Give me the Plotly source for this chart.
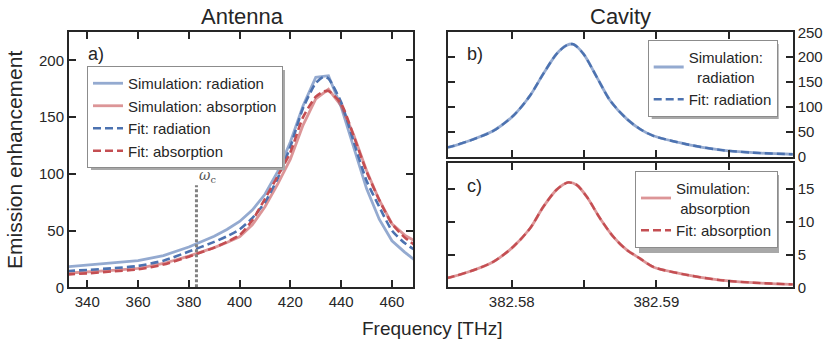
import plotly.graph_objects as go

# ---------------- data ----------------
# Panel a) Antenna
freq_ant = [332, 340, 350, 360, 370, 380, 390, 395, 400, 405, 410, 415, 420, 425, 430, 435, 440, 445, 450, 455, 460, 465, 469]
sim_rad_ant = [18, 19.5, 21, 23.5, 28, 35.5, 45, 51, 58, 68, 82, 102, 128, 160, 185, 186.5, 159, 123, 87, 60, 41, 31, 24]
sim_abs_ant = [12.5, 13.5, 15, 16.7, 21, 27.5, 35, 39.5, 44.5, 55, 71, 91, 113, 143, 166, 174.5, 160, 134, 103, 77, 56, 46, 41]
freq_fit = [332, 340, 350, 360, 370, 380, 390, 395, 400, 405, 410, 415, 420, 425, 430, 433, 435, 440, 445, 450, 455, 460, 465, 469]
fit_rad_ant = [14.3, 15.3, 16.8, 18.8, 23.5, 31.5, 40, 45, 51, 61, 75, 96, 124, 158, 180, 185.5, 184, 163, 128, 94, 71, 50, 39, 33]
fit_abs_ant = [11.3, 12.3, 14, 15.8, 20, 27, 35, 40, 46, 59, 78, 98, 119, 150, 168, 172.5, 173, 162, 133, 102, 77, 56, 44, 37]
omega_c = 383.0
omega_c_top = 90

# Panel b) Cavity radiation
freq_cav_b = [382.5755, 382.57573, 382.57734, 382.57873, 382.58011, 382.58127, 382.58219, 382.58311, 382.58380,
              382.58426, 382.58495, 382.58588, 382.58680, 382.58795, 382.58887, 382.58979, 382.59210,
              382.59440, 382.59671, 382.59936, 382.5996]
rad_cav = [19, 19.7, 35, 52, 82.5, 123, 167, 207, 224, 226, 207, 160, 113, 76, 55.5, 42, 25, 13.6, 8, 4.9, 4.8]

# Panel c) Cavity absorption
freq_cav_c = [382.5755, 382.57573, 382.57734, 382.57873, 382.58011, 382.58127, 382.58219, 382.58311, 382.58391,
              382.58450, 382.58519, 382.58611, 382.58703, 382.58795, 382.58887, 382.58979, 382.59210,
              382.59440, 382.59671, 382.59936, 382.5996]
abs_cav = [1.4, 1.5, 2.6, 3.9, 6.2, 9.0, 12.3, 14.9, 16.0, 15.6, 13.8, 10.5, 7.7, 5.7, 4.4, 3.1, 1.9, 1.1, 0.7, 0.45, 0.44]

ant_ticks = [340, 360, 380, 400, 420, 440, 460]
cav_ticks = [382.58, 382.59]
cav_ticktext = ["382.58", "382.59"]
cav_minor_ticks = [382.585, 382.595]

# ---------------- style ----------------
W, H = 831, 343
FONT = "Liberation Sans, Arial, Helvetica, sans-serif"
INK = "#262626"
BLUE = "#4C72B0"
RED = "#C44E52"
BLUE_L = "rgba(76,114,176,0.6)"
RED_L = "rgba(196,78,82,0.6)"
DASH = "8px,4px"

def px_x(p):
    return p / W

def px_y(p):
    return 1 - p / H

fig = go.Figure()

# panel a
fig.add_trace(go.Scatter(x=freq_ant, y=sim_rad_ant, mode="lines", name="Simulation: radiation",
                         line=dict(color=BLUE_L, width=2.8), xaxis="x", yaxis="y", legend="legend"))
fig.add_trace(go.Scatter(x=freq_ant, y=sim_abs_ant, mode="lines", name="Simulation: absorption",
                         line=dict(color=RED_L, width=2.8), xaxis="x", yaxis="y", legend="legend"))
fig.add_trace(go.Scatter(x=freq_fit, y=fit_rad_ant, mode="lines", name="Fit: radiation",
                         line=dict(color=BLUE, width=2.6, dash=DASH, shape="spline", smoothing=0.6),
                         xaxis="x", yaxis="y", legend="legend"))
fig.add_trace(go.Scatter(x=freq_fit, y=fit_abs_ant, mode="lines", name="Fit: absorption",
                         line=dict(color=RED, width=2.6, dash=DASH, shape="spline", smoothing=0.6),
                         xaxis="x", yaxis="y", legend="legend"))
fig.add_trace(go.Scatter(x=[omega_c, omega_c], y=[0, omega_c_top], mode="lines", showlegend=False,
                         line=dict(color="#808080", width=3, dash="3px,2px"), xaxis="x", yaxis="y"))

# panel b
fig.add_trace(go.Scatter(x=freq_cav_b, y=rad_cav, mode="lines",
                         name="Simulation:<br>\u00a0\u00a0radiation",
                         line=dict(color=BLUE_L, width=2.8, shape="spline", smoothing=0.8),
                         xaxis="x2", yaxis="y2", legend="legend2"))
fig.add_trace(go.Scatter(x=freq_cav_b, y=rad_cav, mode="lines", name="Fit: radiation",
                         line=dict(color=BLUE, width=2.4, dash=DASH, shape="spline", smoothing=0.8),
                         xaxis="x2", yaxis="y2", legend="legend2"))

# panel c
fig.add_trace(go.Scatter(x=freq_cav_c, y=abs_cav, mode="lines",
                         name="Simulation:<br>\u00a0absorption",
                         line=dict(color=RED_L, width=2.8, shape="spline", smoothing=0.8),
                         xaxis="x3", yaxis="y3", legend="legend3"))
fig.add_trace(go.Scatter(x=freq_cav_c, y=abs_cav, mode="lines", name="Fit: absorption",
                         line=dict(color=RED, width=2.4, dash=DASH, shape="spline", smoothing=0.8),
                         xaxis="x3", yaxis="y3", legend="legend3"))

axis_common = dict(showline=True, linewidth=2, linecolor=INK, mirror="ticks", ticks="inside",
                   ticklen=7, tickwidth=2, tickcolor=INK, showgrid=False, zeroline=False,
                   automargin=False,
                   tickfont=dict(family=FONT, size=15, color=INK))
minor_cav = dict(tickvals=cav_minor_ticks, ticks="inside", ticklen=7, tickwidth=2, tickcolor=INK,
                 showgrid=False)

xa_dom = [px_x(69), px_x(413)]
xb_dom = [px_x(447.7), px_x(792.7)]

# legend boxes (reference pixels): left, top, width, height
LEG_A = (87, 66, 194, 100)
LEG_B = (647.7, 40, 127, 75)
LEG_C = (635, 171, 140, 78)

def legend_style(box):
    return dict(x=px_x(box[0]), y=px_y(box[1]), xanchor="left", yanchor="top", bgcolor="white",
                bordercolor="#8c8c8c", borderwidth=1, font=dict(family=FONT, size=15, color=INK),
                tracegroupgap=0)

fig.update_layout(
    template="none",
    width=W, height=H, margin=dict(l=0, r=0, t=0, b=0, pad=0, autoexpand=False),
    paper_bgcolor="white", plot_bgcolor="white",
    font=dict(family=FONT, color=INK),
    hovermode=False,
    xaxis=dict(domain=xa_dom, range=[332.8, 468.3], tickvals=ant_ticks, anchor="y", **axis_common),
    yaxis=dict(domain=[px_y(287.3), px_y(32)], range=[0, 225], tickvals=[0, 50, 100, 150, 200],
               anchor="x", **axis_common),
    xaxis2=dict(domain=xb_dom, range=[382.57557, 382.59943], tickvals=cav_ticks, showticklabels=False,
                minor=minor_cav, anchor="y2", **axis_common),
    yaxis2=dict(domain=[px_y(156.7), px_y(32.3)], range=[0, 250], tickvals=[0, 50, 100, 150, 200, 250],
                side="right", anchor="x2", **axis_common),
    xaxis3=dict(domain=xb_dom, range=[382.57557, 382.59943], tickvals=cav_ticks, ticktext=cav_ticktext,
                minor=minor_cav, anchor="y3", **axis_common),
    yaxis3=dict(domain=[px_y(287.3), px_y(162.7)], range=[0, 19], tickvals=[0, 5, 10, 15],
                side="right", anchor="x3", **axis_common),
    legend=legend_style(LEG_A),
    legend2=legend_style(LEG_B),
    legend3=legend_style(LEG_C),
)

# legend shadows
for (lx, ly, lw, lh) in [LEG_A, LEG_B, LEG_C]:
    fig.add_shape(type="rect", xref="paper", yref="paper",
                  x0=px_x(lx + 4), x1=px_x(lx + lw + 4), y0=px_y(ly + lh + 4), y1=px_y(ly + 4),
                  fillcolor="#a8a8a8", line=dict(width=0), layer="above")

def add_text(text, x, y, size, xanchor="center", yanchor="middle", angle=0, family=FONT, color=INK):
    fig.add_annotation(text=text, x=px_x(x), y=px_y(y), xref="paper", yref="paper", showarrow=False,
                       xanchor=xanchor, yanchor=yanchor, textangle=angle,
                       font=dict(family=family, size=size, color=color))

add_text("Antenna", 242, 16, 22)
add_text("Cavity", 620.5, 16, 22)
add_text("a)", 86, 54, 18, xanchor="left")
add_text("b)", 464.5, 54, 18, xanchor="left")
add_text("c)", 464.5, 185.5, 18, xanchor="left")
add_text("Emission enhancement", 14, 160, 21, angle=-90)
add_text("Frequency [THz]", 431.7, 328, 19)
fig.add_annotation(text="<i>ω</i><sub>c</sub>", x=omega_c, y=omega_c_top, xref="x", yref="y",
                   showarrow=False, xanchor="left", yanchor="bottom", xshift=1, yshift=-2,
                   font=dict(family="DejaVu Serif, Liberation Serif, serif", size=14, color="#555555"))

fig.write_html("out.html", config={"displayModeBar": False, "staticPlot": True},
               post_script="document.body.style.margin='0px';")
